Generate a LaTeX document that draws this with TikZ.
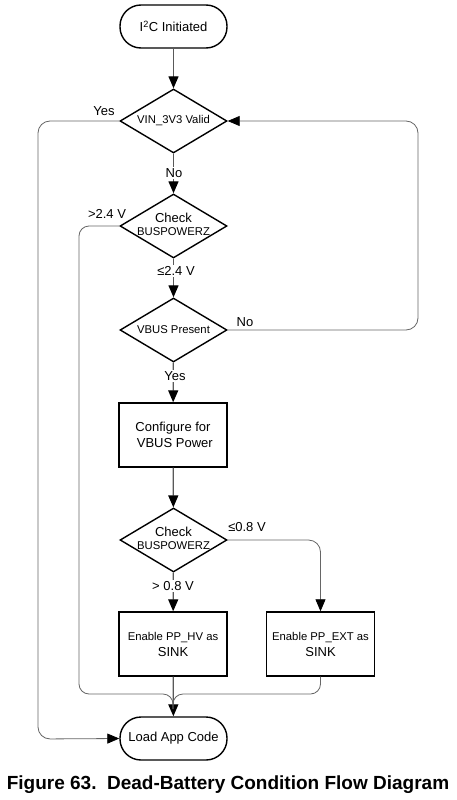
\documentclass[tikz,border=0pt]{standalone}
\usepackage{fontspec}
\setmainfont{Liberation Sans}
\usetikzlibrary{shapes.geometric,arrows.meta}
\begin{document}
\begin{tikzpicture}[x=1pt,y=-1pt,
  shapeline/.style={draw=black,line width=1.4pt},
  term/.style={shapeline,rectangle,rounded corners=21pt,minimum width=107pt,minimum height=43pt,inner sep=0pt,font=\fontsize{13}{15}\selectfont},
  dec/.style={shapeline,diamond,minimum width=107pt,minimum height=64pt,inner sep=0pt},
  dectext/.style={inner sep=0pt,align=center,font=\fontsize{11.3}{12}\selectfont},
  proc/.style={shapeline,rectangle,minimum width=108pt,minimum height=64pt,inner sep=0pt,align=center,font=\fontsize{13}{16}\selectfont},
  tip/.style={-{Triangle[length=12pt,width=10pt,fill=black,color=black]}},
  arr/.style={draw=black!65,line width=1.3pt,tip},
  lp/.style={draw=black!60,line width=0.8pt,rounded corners=12pt},
  lbl/.style={font=\fontsize{13}{15}\selectfont,inner sep=1pt,fill=white}
]
\useasboundingbox (0,0) rectangle (456,800);
\fill[white] (0,0) rectangle (456,800);

\node[term] (start) at (173.5,26.5) {I\textsuperscript{2}C Initiated};
\node[dec] (d1) at (173.5,121) {};
\node[dectext] (d1t) at (173.5,121) {VIN\_3V3 Valid};
\node[dec] (d2) at (173.5,226) {};
\node[dectext] (d2t) at (173.5,224) {{\fontsize{13}{14}\selectfont Check}\\[1pt]BUSPOWERZ};
\node[dec] (d3) at (173.5,330) {};
\node[dectext] (d3t) at (173.5,330) {VBUS Present};
\node[proc] (cfg) at (173,435) {Configure for\\\ VBUS Power};
\node[dec] (d4) at (173.5,540) {};
\node[dectext] (d4t) at (173.5,538) {{\fontsize{13}{14}\selectfont Check}\\[1pt]BUSPOWERZ};
\node[proc] (hv) at (173,644) {{\fontsize{11.3}{13}\selectfont Enable PP\_HV as}\\SINK};
\node[proc] (ext) at (320.5,644) {{\fontsize{11.3}{13}\selectfont Enable PP\_EXT as}\\SINK};
\node[term] (load) at (173.5,738.5) {Load App Code};

\coordinate (ml) at (173,709);
\coordinate (lA) at (38,121);
\coordinate (lB) at (38,739);
\coordinate (bA) at (79,226);
\coordinate (bB) at (79,694);
\coordinate (bC) at (173,694);
\coordinate (rA) at (418,330);
\coordinate (rB) at (418,121);
\coordinate (eA) at (320.5,694);
\coordinate (dA) at (320.5,540);

\draw[arr] (start) -- (d1);
\draw[arr] (d1) -- (d2);
\draw[arr] (d2) -- (d3);
\draw[arr] (d3) -- (cfg);
\draw[arr] (cfg) -- (d4);
\draw[arr] (d4) -- (hv);
\draw[arr] (hv) -- (load);

\draw[lp,tip] (d1.west) -- (lA) -- (lB) -- (load.west);
\draw[lp,tip] (d3.east) -- (rA) -- (rB) -- (d1.east);
\draw[lp,rounded corners=10pt] (d2.west) -- (bA) -- (bB) -- (bC) -- (ml);
\draw[lp,rounded corners=10pt] (ext.south) -- (eA) -- (bC) -- (ml);
\draw[lp,tip] (d4.east) -- (dA) -- (ext.north);

\node[lbl] (lyes1) at (104,111) {Yes};
\node[lbl] (lno1) at (174,173) {No};
\node[lbl] (lgt24) at (107,214) {>2.4 V};
\node[lbl] (lle24) at (176,271) {≤2.4 V};
\node[lbl] (lno2) at (245,322) {No};
\node[lbl] (lyes2) at (175,376) {Yes};
\node[lbl] (lle08) at (247,527) {≤0.8 V};
\node[lbl] (lgt08) at (173,586) {> 0.8 V};

\node[font=\bfseries\fontsize{19}{21}\selectfont,inner sep=0pt] (cap) at (228,785) {Figure 63.\ \ Dead-Battery Condition Flow Diagram};
\end{tikzpicture}
\end{document}
